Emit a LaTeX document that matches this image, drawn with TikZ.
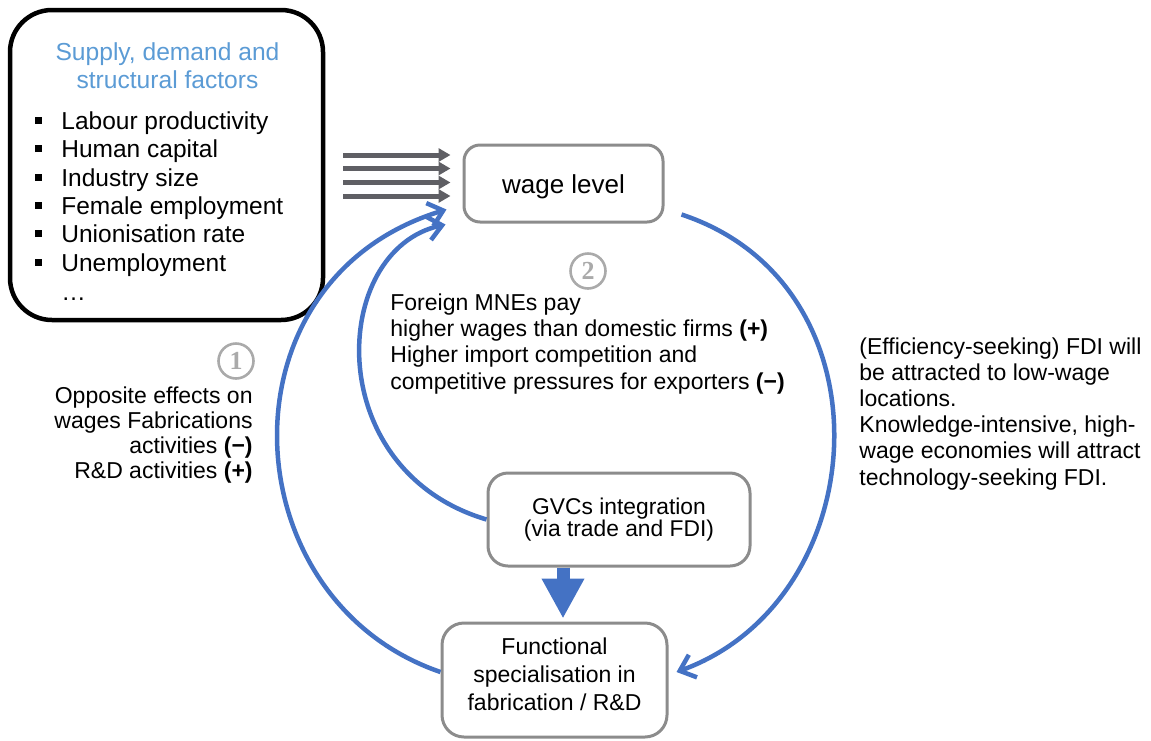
\documentclass[tikz,border=0pt]{standalone}
\usepackage{fontspec}
\setmainfont{Liberation Sans}
\newfontfamily\digitfont{Liberation Serif}
\usetikzlibrary{arrows.meta}
\definecolor{cblue}{RGB}{68,114,196}
\definecolor{ctitle}{RGB}{91,155,213}
\definecolor{cbox}{RGB}{140,140,140}
\definecolor{cgarrow}{RGB}{95,95,100}
\definecolor{ccirc}{RGB}{170,170,170}
\newcommand\bulsq{\rule[2.75pt]{3.5pt}{3.5pt}\hspace{9.5pt}}
\begin{document}
\begin{tikzpicture}[x=0.5pt,y=-0.5pt,
  roundbox/.style={draw=cbox, line width=1.5pt, rounded corners=#1, fill=white, align=center, inner sep=0pt},
  listitem/.style={anchor=base west, inner sep=0pt, font=\fontsize{12.25pt}{14.2pt}\selectfont},
  titleline/.style={anchor=base, inner sep=0pt, text=ctitle, font=\fontsize{12.3pt}{14pt}\selectfont},
  lbl/.style={inner sep=0pt, font=\fontsize{11.5pt}{13.1pt}\selectfont},
  circnum/.style={circle, draw=ccirc, line width=1.3pt, minimum size=17.5pt, inner sep=0pt, text=ccirc, font=\digitfont\bfseries\fontsize{13pt}{13pt}\selectfont},
  grayarrow/.style={draw=cgarrow, line width=2.5pt, -{Triangle[length=6pt,width=6.5pt]}, shorten >=6pt},
  bluearrow/.style={draw=cblue, line width=2.25pt, -{Straight Barb[length=7pt,width=12pt]}},
  bigarrow/.style={draw=cblue, line width=6.5pt, -{Triangle[length=20pt,width=20pt]}}
]
\useasboundingbox (0,0) rectangle (1151,740);

% left factors box
\node[draw=black, line width=2.25pt, rounded corners=21pt, minimum width=156.5pt, minimum height=155pt, inner sep=0pt] (factors) at (166.5,165) {};
\node[titleline] (t1) at (167.5,60) {Supply, demand and};
\node[titleline] (t2) at (167.5,88) {structural factors};
\node[listitem] (i1) at (35,129.3) {\bulsq Labour productivity};
\node[listitem] (i2) at (35,157.6) {\bulsq Human capital};
\node[listitem] (i3) at (35,186) {\bulsq Industry size};
\node[listitem] (i4) at (35,214.3) {\bulsq Female employment};
\node[listitem] (i5) at (35,242.6) {\bulsq Unionisation rate};
\node[listitem] (i6) at (35,271) {\bulsq Unemployment};
\node[listitem] (i7) at (61,300) {…};

% main boxes
\node[roundbox=8pt, minimum width=99.5pt, minimum height=38.5pt, text height=9.5pt, text depth=0pt, font=\fontsize{13pt}{15pt}\selectfont] (wage) at (563.5,183.5) {wage level};
\node[roundbox=10pt, minimum width=131pt, minimum height=46.5pt, font=\fontsize{11.4pt}{11.4pt}\selectfont] (gvc) at (619,519.5) {GVCs integration\\(via trade and FDI)};
\node[roundbox=11pt, minimum width=112.5pt, minimum height=57pt, text depth=6pt, font=\fontsize{11.5pt}{14pt}\selectfont] (func) at (554.5,680) {Functional\\specialisation in\\fabrication / R\&D};

% gray input arrows
\coordinate (g1) at (343,155);
\coordinate (g2) at (343,168.5);
\coordinate (g3) at (343,182.5);
\coordinate (g4) at (343,196);
\draw[grayarrow] (g1) -- (g1 -| wage.west);
\draw[grayarrow] (g2) -- (g2 -| wage.west);
\draw[grayarrow] (g3) -- (g3 -| wage.west);
\draw[grayarrow] (g4) -- (g4 -| wage.west);

% blue loops
\draw[bluearrow] ([yshift=4pt]func.west) .. controls (230,600) and (215,280) .. ([xshift=-8pt,yshift=7pt]wage.south west);
\draw[bluearrow] (gvc.west) .. controls (320,470) and (330,250) .. ([xshift=-8.5pt,yshift=-0.5pt]wage.south west);
\draw[bluearrow] ([xshift=8.5pt,yshift=4.5pt]wage.south east) .. controls (895,285) and (875,600) .. ([xshift=4pt,yshift=4pt]func.east);

% thick arrow
\coordinate (ga) at ([xshift=-28pt]gvc.south);
\draw[bigarrow] (ga) -- ([yshift=1.5pt]ga |- func.north);

% circled numbers
\node[circnum] (c1) at (236,361) {1};
\node[circnum] (c2) at (588,271) {2};

% labels (base anchor = baseline of last line)
\node[lbl, anchor=base west, align=left] (lab2) at (390,389) {Foreign MNEs pay\\higher wages than domestic firms \textbf{(+)}\\Higher import competition and\\competitive pressures for exporters \textbf{(−)}};
\node[lbl, anchor=base east, align=right, font=\fontsize{11.5pt}{12.4pt}\selectfont] (lab1) at (253,478) {Opposite effects on\\wages Fabrications\\activities \textbf{(−)}\\R\&D activities \textbf{(+)}};
\node[lbl, anchor=base west, align=left] (lab3) at (859,485) {(Efficiency-seeking) FDI will\\be attracted to low-wage\\locations.\\Knowledge-intensive, high-\\wage economies will attract\\technology-seeking FDI.};
\end{tikzpicture}
\end{document}
